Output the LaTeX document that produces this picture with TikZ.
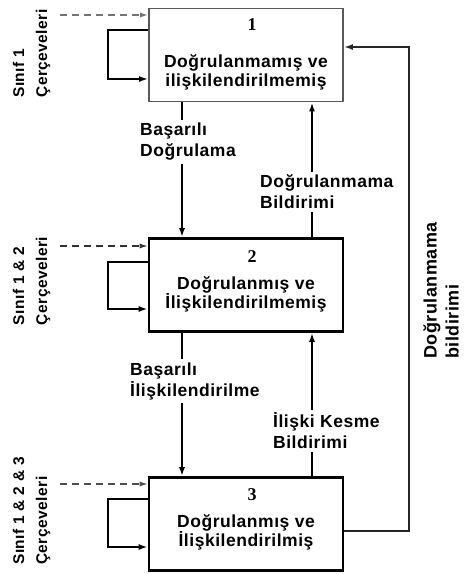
\documentclass[tikz,border=0pt]{standalone}
\usepackage{fontspec}
\setmainfont{Liberation Sans}[LetterSpace=3]
\newfontfamily\numfont{Liberation Serif}
\usetikzlibrary{arrows.meta}
\begin{document}
\begin{tikzpicture}[x=1pt,y=-1pt,
  box/.style={draw=black, line width=2.6pt, minimum width=194pt, minimum height=93pt, inner sep=0pt},
  boxone/.style={box, draw=black!65, line width=1.8pt},
  boxtxt/.style={font=\bfseries\fontsize{17.5}{19}\selectfont, align=center, inner sep=0pt},
  numtxt/.style={font=\numfont\bfseries\fontsize{18}{18}\selectfont, inner sep=0pt},
  lbl/.style={font=\bfseries\fontsize{17.5}{21}\selectfont, align=left, inner sep=3pt},
  sidelbl/.style={font=\bfseries\fontsize{15.5}{23}\selectfont, align=left, rotate=90, inner sep=0pt},
  conn/.style={line width=2.4pt, black},
  arr/.style={-{Latex[length=9pt,width=6pt]}},
  dsh/.style={line width=1.4pt, dash pattern=on 7pt off 5pt, -{Latex[length=8pt,width=5pt]}}
]
\useasboundingbox (0,0) rectangle (465,574);

% boxes
\node[boxone] (b1) at (246,55) {};
\node[box] (b2) at (246,285) {};
\node[box] (b3) at (246,524) {};

\node[numtxt] (n1) at (252,25) {1};
\node[numtxt] (n2) at (252,257) {2};
\node[numtxt] (n3) at (252,495) {3};

\node[boxtxt] (t1) at (246,72) {Doğrulanmamış ve\\ilişkilendirilmemiş};
\node[boxtxt] (t2) at (246,294) {Doğrulanmış ve\\İlişkilendirilmemiş};
\node[boxtxt] (t3) at (246,532) {Doğrulanmış ve\\İlişkilendirilmiş};

% side labels
\node[sidelbl] (s1) at (31.5,53.5) {Sınıf 1\\Çerçeveleri};
\node[sidelbl] (s2) at (31.5,281) {Sınıf 1 \& 2\\Çerçeveleri};
\node[sidelbl] (s3) at (31.5,511) {Sınıf 1 \& 2 \& 3\\Çerçeveleri};

% dashed inputs
\coordinate (d1) at (60,15);
\coordinate (d2) at (60,246);
\coordinate (d3) at (60,484);
\draw[dsh, black!55] (d1) -- (d1 -| b1.west);
\draw[dsh, black!80, line width=1.2pt] (d2) -- (d2 -| b2.west);
\draw[dsh, black!70, line width=1.2pt] (d3) -- (d3 -| b3.west);

% self loops
\draw[conn, arr] ([yshift=25pt]b1.west) -- ++(-40,0) |- ([yshift=-24pt]b1.west);
\draw[conn, arr] ([yshift=23pt]b2.west) -- ++(-40,0) |- ([yshift=-24pt]b2.west);
\draw[conn, arr] ([yshift=25pt]b3.west) -- ++(-40,0) |- ([yshift=-23pt]b3.west);

% connector labels
\node[lbl, anchor=west] (l1) at (137,142) {Başarılı\\Doğrulama};
\node[lbl, anchor=west] (l2) at (127,381) {Başarılı\\İlişkilendirilme};
\node[lbl, anchor=west] (l3) at (270,431) {İlişki Kesme\\Bildirimi};
\node[lbl, anchor=west] (l4) at (257,192) {Doğrulanmama\\Bildirimi};

\coordinate (xa) at (182,0);
\coordinate (xb) at (312,0);

% downward connectors
\draw[conn] (b1.south -| xa) -- (l1.north -| xa);
\draw[conn, arr] (l1.south -| xa) -- (b2.north -| xa);
\draw[conn] (b2.south -| xa) -- (l2.north -| xa);
\draw[conn, arr] (l2.south -| xa) -- (b3.north -| xa);

% upward connectors
\draw[conn] (b3.north -| xb) -- (l3.south -| xb);
\draw[conn, arr] (l3.north -| xb) -- (b2.south -| xb);
\draw[conn] (b2.north -| xb) -- (l4.south -| xb);
\draw[conn, arr] (l4.north -| xb) -- (b1.south -| xb);

% big return loop
\coordinate (rc) at (409,300);
\draw[conn, line width=2pt, black!85, arr] ([yshift=-7pt]b3.east) -| (rc) |- ([yshift=8pt]b1.east);
\node[lbl, rotate=90, inner sep=0pt, font=\bfseries\fontsize{18}{22}\selectfont] (rl) at (441,290.5) {Doğrulanmama\\bildirimi};

\end{tikzpicture}
\end{document}
